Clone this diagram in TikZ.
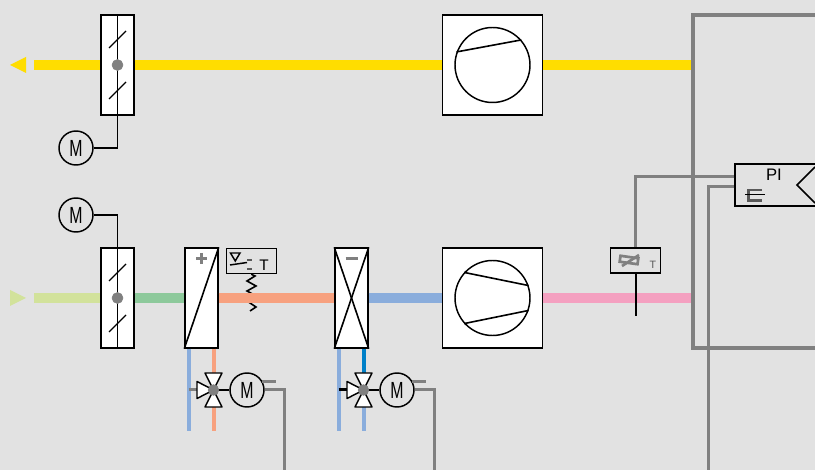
\documentclass[tikz,border=0pt]{standalone}
\usepackage{graphicx}
\usepackage{fontspec}
\setmainfont{Liberation Sans}
\usetikzlibrary{calc}

\definecolor{panelgrey}{HTML}{E2E2E2}
\definecolor{signalgrey}{HTML}{808080}
\definecolor{exhaustyellow}{HTML}{FFDD00}
\definecolor{outdoorlime}{HTML}{D2E29B}
\definecolor{filtergreen}{HTML}{8DC99B}
\definecolor{warmsalmon}{HTML}{F7A17F}
\definecolor{coolblue}{HTML}{8AADDC}
\definecolor{deepblue}{HTML}{0080C8}
\definecolor{supplypink}{HTML}{F4A0C0}

\tikzset{
  unitbox/.style={draw,fill=white,line width=1.1pt,inner sep=0pt},
  damperbox/.style={unitbox,minimum width=24.75pt,minimum height=75pt},
  fanbox/.style={unitbox,minimum width=75pt,minimum height=75pt},
  fanwheel/.style={draw,circle,line width=1.1pt,inner sep=0pt,minimum size=56.25pt},
  sensbox/.style={draw,line width=1.1pt,inner sep=0pt,minimum width=37.5pt,minimum height=18.75pt},
  motor/.style={draw,circle,line width=1.1pt,inner sep=0pt,minimum size=25.5pt,font=\fontsize{17.5}{18}\selectfont},
  spindle/.style={draw=signalgrey,fill=signalgrey,circle,inner sep=0pt,minimum size=8pt},
  duct/.style={line width=7.5pt},
  pipe/.style={line width=3pt},
  signal/.style={draw=signalgrey,line width=2.25pt},
  thin black/.style={line width=1.2pt},
  valvewing/.style={draw,fill=white,line width=1.1pt,line join=round},
}

\newcommand{\motorM}{\scalebox{0.68}[1]{M}}

\begin{document}
\begin{tikzpicture}[x=0.75pt,y=-0.75pt]
\fill[panelgrey] (0,0) rectangle (815,470);
\useasboundingbox (0,0) rectangle (815,470);
\clip (0,0) rectangle (815,470);

% Exhaust air row
\node[damperbox] (damperT) at (117.5,65) {};
\node[fanbox] (fanT) at (492.5,65) {};
\node[fanwheel] (wheelT) at (492.5,65) {};
\node[motor] (motorT) at (76,148) {\motorM};

% Supply air row
\node[damperbox] (damperB) at (117.5,298) {};
\node[damperbox] (heater) at (201.5,298) {};
\node[damperbox] (cooler) at (351.5,298) {};
\node[fanbox] (fanB) at (492.5,298) {};
\node[fanwheel] (wheelB) at (492.5,298) {};
\node[motor] (motorB) at (76,215) {\motorM};

% Room and controller
\node[draw=signalgrey,line width=3pt,inner sep=0pt,minimum width=225pt,minimum height=249.75pt] (room) at (842.5,181.5) {};
\node[draw,line width=1.1pt,inner sep=0pt,minimum width=90pt,minimum height=31.5pt] (pibox) at (795,185) {};
\node[font=\fontsize{12.5}{13}\selectfont] (pitext) at (774,175) {PI};

% Sensors
\node[sensbox] (frost) at (251.25,261) {};
\node[font=\fontsize{11.5}{12}\selectfont] (frostT) at (264,265) {T};
\node[sensbox] (tempsens) at (635.75,260.5) {};
\node[font=\fontsize{8}{9}\selectfont,text=black!65] (tempT) at (653,265) {T};

% Free ends
\coordinate (airoutT) at (34,65);
\coordinate (airinB) at (34,298);
\coordinate (retA) at (188.5,431);
\coordinate (retB) at (338.5,431);
\coordinate (lineA) at (284.5,472);
\coordinate (lineB) at (434.5,472);
\coordinate (lineC) at (708.5,472);

% Frost sensor element, the duct runs over it
\draw[thin black] (frost.south) -- (255,276) -- (247,281) -- (256,286) -- (247,291) -- (256,296)
  -- (247,301) -- (256,307) -- (250,311);

% Ducts
\draw[duct,exhaustyellow] (airoutT) -- (damperT.west);
\draw[duct,exhaustyellow] (damperT.east) -- (fanT.west);
\draw[duct,exhaustyellow] (fanT.east) -- (room.west |- fanT);
\draw[duct,outdoorlime] (airinB) -- (damperB.west);
\draw[duct,filtergreen] (damperB.east) -- (heater.west);
\draw[duct,warmsalmon] (heater.east) -- (cooler.west);
\draw[duct,coolblue] (cooler.east) -- (fanB.west);
\draw[duct,supplypink] (fanB.east) -- (room.west |- fanB);

% Flow arrows
\fill[exhaustyellow] (10,65) -- (26,57) -- (26,73) -- cycle;
\fill[outdoorlime] (26,298) -- (10,290) -- (10,306) -- cycle;

% Dampers
\foreach \d in {T,B} {
  \draw[thin black,line width=0.9pt] ($(damper\d)+(-8.5,-17)$) -- ($(damper\d)+(8.5,-34)$);
  \draw[thin black,line width=0.9pt] ($(damper\d)+(-8.5,34)$) -- ($(damper\d)+(8.5,17)$);
}
\draw[thin black] (motorT.east) -| (damperT.north);
\draw[thin black] (motorB.east) -| (damperB.south);
\node[spindle,minimum size=8.25pt] (spindleT) at (damperT) {};
\node[spindle,minimum size=8.25pt] (spindleB) at (damperB) {};

% Fan wheels
\draw[thin black] (wheelT.160) -- (wheelT.41);
\draw[thin black] (wheelB.138) -- (wheelB.19);
\draw[thin black] (wheelB.222) -- (wheelB.341);

% Coils
\draw[thin black] (heater.south west) -- (heater.north east);
\draw[thin black] (cooler.south west) -- (cooler.north east);
\draw[thin black] (cooler.north west) -- (cooler.south east);
\draw[signal,line width=2.8pt] ($(heater)+(0,-39.5)$) ++(-5.5,0) -- ++(11,0);
\draw[signal,line width=2.8pt] ($(heater)+(0,-39.5)$) ++(0,-5.5) -- ++(0,11);
\draw[signal,line width=2.8pt] ($(cooler)+(-6,-39.5)$) -- ++(12,0);

% Valves with their motors
\foreach \n/\x/\coil/\ret/\up/\down/\stub in {
    A/213.5/heater/retA/warmsalmon/warmsalmon/signalgrey,
    B/363.5/cooler/retB/deepblue/coolblue/black} {
  \coordinate (seat\n) at (\x,390);
  \node[motor] (motor\n) at (\x+33.5,390) {\motorM};
  \draw[pipe,coolblue] (\ret |- \coil.south) -- (\ret);
  \draw[pipe,\up] (seat\n |- \coil.south) -- (seat\n);
  \draw[pipe,\down] (seat\n) -- (seat\n |- \ret);
  \draw[line width=2.25pt,\stub] (seat\n -| \ret) -- (seat\n);
  \draw[thin black] (seat\n) -- (motor\n.west);
  \draw[valvewing] (seat\n) -- ++(-8.5,-17) -- ++(17,0) -- cycle;
  \draw[valvewing] (seat\n) -- ++(-8.5,17) -- ++(17,0) -- cycle;
  \draw[valvewing] (seat\n) -- ++(-16.5,-8.5) -- ++(0,17) -- cycle;
  \node[spindle] (valve\n) at (seat\n) {};
  \draw[signal] (motor\n.30) -- ++(14,0);
}
\draw[signal] (motorA.east) -| (lineA);
\draw[signal] (motorB.east) -| (lineB);

% Frost sensor symbol
\draw[line width=1.1pt] (230.5,253) -- (240,253) -- (235.25,261) -- cycle;
\draw[line width=1.1pt] (230,265) -- (247,262.5);
\draw[signal,draw=black!65,line width=1.7pt] (247,260) -- (252,260);
\draw[signal,draw=black!65,line width=1.7pt] (247,269) -- (252,269);

% Temperature sensor symbol
\draw[thin black] (tempsens.south) -- ++(0,42);
\draw[signal,line width=2pt,rotate around={-8:(629,260)}] (620,257) rectangle (638,263);
\draw[signal,line width=2pt] (622,266) -- (639,255);

% Controller
\draw[thin black] (815,167) -- (797,185) -- (815,203);
\draw[signal,draw=black!65,line width=1.7pt] (762,190) -- (748.5,190) -- (748.5,200.5) -- (762,200.5);
\draw[line width=1pt] (745,194.5) -- (765,194.5);
\draw[signal] ($(pibox.west)+(0,-8)$) -| (tempsens.north);
\draw[signal] ($(pibox.west)+(0,2)$) -| (lineC);
\end{tikzpicture}
\end{document}
